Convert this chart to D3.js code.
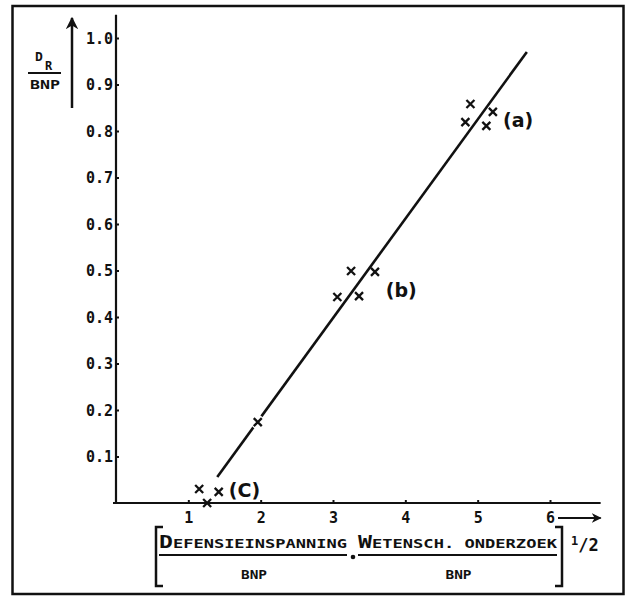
<!DOCTYPE html>
<html>
<head>
<meta charset="utf-8">
<script src="https://cdn.jsdelivr.net/npm/d3@7"></script>
<style>
  body { margin: 0; background: #fff; }
  svg { display: block; }
  .tick text { font-family: "DejaVu Sans Mono", monospace; font-weight: bold; font-size: 15px; fill: #111; }
</style>
</head>
<body>
<div id="chart"></div>
<script>
// data
var ptX = [4.90, 5.21, 4.83, 5.12, 3.25, 3.58, 3.06, 3.36, 1.96, 1.15, 1.42, 1.26];
var ptY = [0.858, 0.841, 0.819, 0.811, 0.499, 0.497, 0.443, 0.445, 0.174, 0.030, 0.024, 0.0];
var fitX = [1.40, 5.68];
var fitY = [0.056, 0.970];
var groupNames = ["(a)", "(b)", "(C)"];
var groupX = [5.35, 3.73, 1.56];
var groupY = [0.809, 0.443, 0.013];
var xTicks = [1, 2, 3, 4, 5, 6];
var yTicks = [0.1, 0.2, 0.3, 0.4, 0.5, 0.6, 0.7, 0.8, 0.9, 1.0];

var W = 630, H = 597;
var ink = "#111";

var svg = d3.select("#chart").append("svg").attr("width", W).attr("height", H);

// frame
svg.append("rect").attr("x", 12.5).attr("y", 6).attr("width", 611).attr("height", 588)
  .attr("fill", "none").attr("stroke", ink).attr("stroke-width", 2.5);

var x = d3.scaleLinear().domain([0, 6]).range([116, 550]);
var y = d3.scaleLinear().domain([0, 1]).range([503, 38]);

// axes
var xAxis = svg.append("g").attr("transform", "translate(0," + y(0) + ")")
  .call(d3.axisBottom(x).tickValues(xTicks).tickFormat(d3.format("d")).tickSize(-3).tickPadding(9));
var yAxis = svg.append("g").attr("transform", "translate(" + x(0) + ",0)")
  .call(d3.axisLeft(y).tickValues(yTicks).tickFormat(d3.format(".1f")).tickSize(-3).tickPadding(3));
[xAxis, yAxis].forEach(function(g) {
  g.select(".domain").remove();
  g.selectAll(".tick line").attr("stroke", ink).attr("stroke-width", 2);
});
yAxis.selectAll(".tick text").attr("dy", "0.35em");

svg.append("line").attr("x1", x(0) - 3).attr("x2", x(6.7)).attr("y1", y(0)).attr("y2", y(0))
  .attr("stroke", ink).attr("stroke-width", 2.2);
svg.append("line").attr("x1", x(0)).attr("x2", x(0)).attr("y1", y(0)).attr("y2", y(1.05))
  .attr("stroke", ink).attr("stroke-width", 2.2);

// arrows
svg.append("defs").append("marker").attr("id", "head")
  .attr("viewBox", "0 0 10 10").attr("refX", 9).attr("refY", 5)
  .attr("markerWidth", 5).attr("markerHeight", 5).attr("orient", "auto")
  .append("path").attr("d", "M0,0 L10,5 L0,10 L3,5 Z").attr("fill", ink);

svg.append("line").attr("x1", 72).attr("x2", 72).attr("y1", 108).attr("y2", 18)
  .attr("stroke", ink).attr("stroke-width", 2.5).attr("marker-end", "url(#head)");
svg.append("line").attr("x1", 558).attr("x2", x(6.7)).attr("y1", 518).attr("y2", 518)
  .attr("stroke", ink).attr("stroke-width", 2).attr("marker-end", "url(#head)");

// fit line
svg.append("line")
  .attr("x1", x(fitX[0])).attr("y1", y(fitY[0]))
  .attr("x2", x(fitX[1])).attr("y2", y(fitY[1]))
  .attr("stroke", ink).attr("stroke-width", 2.6);

// gap in the line around the middle point
var gapPoint = 8;
svg.append("circle").attr("cx", x(ptX[gapPoint])).attr("cy", y(ptY[gapPoint])).attr("r", 7).attr("fill", "#fff");

// crosses
var s = 4;
svg.append("g").selectAll("path").data(d3.range(ptX.length)).join("path")
  .attr("d", function(i) {
    var cx = x(ptX[i]), cy = y(ptY[i]);
    return "M" + (cx - s) + "," + (cy - s) + "L" + (cx + s) + "," + (cy + s) +
           "M" + (cx - s) + "," + (cy + s) + "L" + (cx + s) + "," + (cy - s);
  })
  .attr("stroke", ink).attr("stroke-width", 2.3).attr("fill", "none");

// group labels
svg.append("g").selectAll("text").data(d3.range(groupNames.length)).join("text")
  .attr("x", function(i) { return x(groupX[i]); })
  .attr("y", function(i) { return y(groupY[i]); })
  .attr("font-family", "DejaVu Sans, sans-serif").attr("font-weight", "bold")
  .attr("font-size", 19).attr("fill", ink)
  .text(function(i) { return groupNames[i]; });

// y label  D_R / BNP
var mono = "DejaVu Sans Mono, monospace";
svg.append("text").attr("x", 35).attr("y", 61).attr("font-family", mono).attr("font-weight", "bold")
  .attr("font-size", 13).attr("fill", ink).text("D");
svg.append("text").attr("x", 45).attr("y", 70).attr("font-family", mono).attr("font-weight", "bold")
  .attr("font-size", 12).attr("fill", ink).text("R");
svg.append("line").attr("x1", 28).attr("x2", 61).attr("y1", 73).attr("y2", 73)
  .attr("stroke", ink).attr("stroke-width", 1.8);
svg.append("text").attr("x", 30).attr("y", 89).attr("font-family", mono).attr("font-weight", "bold")
  .attr("font-size", 13).attr("textLength", 30).attr("lengthAdjust", "spacingAndGlyphs")
  .attr("fill", ink).text("BNP");

// x label
function smallCaps(tx, ty, first, rest, len) {
  var t = svg.append("text").attr("x", tx).attr("y", ty).attr("font-family", mono)
    .attr("font-weight", "bold").attr("fill", ink)
    .attr("textLength", len).attr("lengthAdjust", "spacingAndGlyphs");
  t.append("tspan").attr("font-size", 17).text(first);
  t.append("tspan").attr("font-size", 12.5).text(rest);
}
smallCaps(159, 548, "D", "EFENSIEINSPANNING", 188);
smallCaps(358, 548, "W", "ETENSCH. ONDERZOEK", 199);

[[159, 347], [358, 557]].forEach(function(b) {
  svg.append("line").attr("x1", b[0]).attr("x2", b[1]).attr("y1", 555).attr("y2", 555)
    .attr("stroke", ink).attr("stroke-width", 2);
  svg.append("text").attr("x", (b[0] + b[1]) / 2 + 1).attr("y", 579).attr("text-anchor", "middle")
    .attr("font-family", mono).attr("font-weight", "bold").attr("font-size", 13)
    .attr("textLength", 26).attr("lengthAdjust", "spacingAndGlyphs")
    .attr("fill", ink).text("BNP");
});
svg.append("circle").attr("cx", 353).attr("cy", 557).attr("r", 2.3).attr("fill", ink);

// brackets
svg.append("path").attr("d", "M163,527 L156,527 L156,586 L163,586")
  .attr("fill", "none").attr("stroke", ink).attr("stroke-width", 2.5);
svg.append("path").attr("d", "M555,527 L562,527 L562,586 L555,586")
  .attr("fill", "none").attr("stroke", ink).attr("stroke-width", 2.5);
var half = svg.append("text").attr("x", 571).attr("y", 551).attr("font-family", mono)
  .attr("font-weight", "bold").attr("fill", ink);
half.append("tspan").attr("font-size", 12).attr("dy", -6).text("1");
half.append("tspan").attr("font-size", 17).attr("dy", 6).text("/2");
</script>
</body>
</html>
